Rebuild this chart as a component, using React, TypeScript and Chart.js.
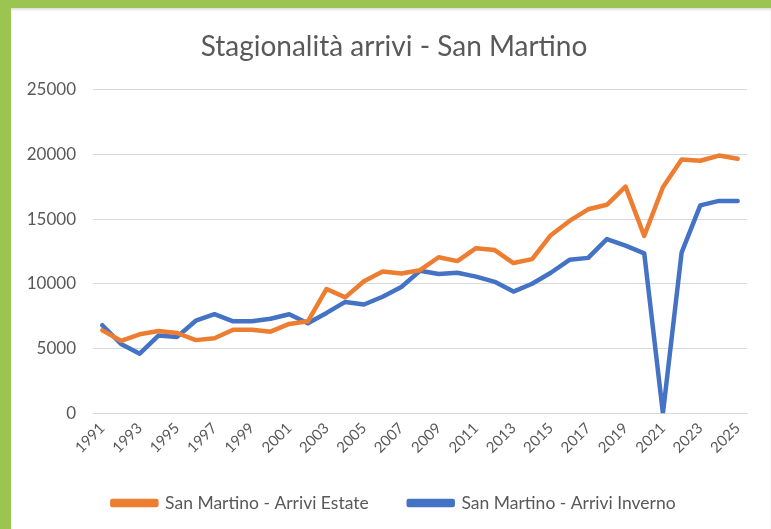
import React, { useEffect, useRef } from "react";
import { Chart, registerables } from "chart.js";

Chart.register(...registerables);

const years = [
  "1991", "1992", "1993", "1994", "1995", "1996", "1997", "1998", "1999", "2000",
  "2001", "2002", "2003", "2004", "2005", "2006", "2007", "2008", "2009", "2010",
  "2011", "2012", "2013", "2014", "2015", "2016", "2017", "2018", "2019", "2020",
  "2021", "2022", "2023", "2024", "2025",
];

const arriviEstate = [
  6400, 5600, 6100, 6350, 6200, 5650, 5800, 6450, 6450, 6300,
  6900, 7100, 9600, 8950, 10200, 10950, 10800, 11050, 12050, 11750,
  12750, 12600, 11600, 11900, 13750, 14850, 15750, 16100, 17500, 13700,
  17450, 19600, 19500, 19900, 19650,
];

const arriviInverno = [
  6800, 5350, 4600, 6000, 5900, 7150, 7650, 7100, 7100, 7300,
  7650, 6950, 7750, 8600, 8400, 9000, 9750, 11000, 10750, 10850,
  10550, 10150, 9400, 10000, 10850, 11850, 12000, 13450, 12950, 12350,
  0, 12400, 16050, 16400, 16400,
];

const seriesNames = ["San Martino - Arrivi Estate", "San Martino - Arrivi Inverno"];
const titleText = "Stagionalità arrivi - San Martino";
const yMin = 0;
const yMax = 25000;
const yStep = 5000;

const ORANGE = "#ED7D31";
const BLUE = "#4472C4";
const TEXT = "#595959";
const GRID = "#d9d9d9";
const FONT = "Lato";

// Shift the title and legend boxes so they are centred like the original
const shiftBoxes = {
  id: "shiftBoxes",
  afterLayout(chart: any) {
    if (chart.titleBlock) chart.titleBlock.left += 30;
    if (chart.legend) chart.legend.left += 30;
  },
};

export default function App() {
  const ref = useRef<HTMLCanvasElement | null>(null);

  useEffect(() => {
    if (!ref.current) return;
    const chart = new Chart(ref.current, {
      type: "line",
      data: {
        labels: years,
        datasets: [
          {
            label: seriesNames[0],
            data: arriviEstate,
            borderColor: ORANGE,
            backgroundColor: ORANGE,
            borderWidth: 4.5,
            pointRadius: 0,
            tension: 0,
            borderJoinStyle: "round",
            borderCapStyle: "round",
          },
          {
            label: seriesNames[1],
            data: arriviInverno,
            borderColor: BLUE,
            backgroundColor: BLUE,
            borderWidth: 4.5,
            pointRadius: 0,
            tension: 0,
            borderJoinStyle: "round",
            borderCapStyle: "round",
          },
        ],
      },
      plugins: [shiftBoxes],
      options: {
        responsive: false,
        animation: false,
        layout: { padding: { top: 10, left: 0, right: 24, bottom: 7.25 } },
        plugins: {
          title: {
            display: true,
            text: titleText,
            color: TEXT,
            font: { family: FONT, size: 28, weight: "normal" },
            padding: { top: 12.4, bottom: 25.5 },
          },
          legend: {
            position: "bottom",
            labels: {
              color: TEXT,
              font: { family: FONT, size: 17.5 },
              boxWidth: 44,
              boxHeight: 4,
              padding: 40,
            },
          },
          tooltip: { enabled: false },
        },
        scales: {
          x: {
            offset: true,
            grid: { display: false, drawTicks: false },
            border: { display: true, color: GRID, width: 1 },
            ticks: {
              autoSkip: false,
              maxRotation: 45,
              minRotation: 45,
              padding: 6,
              color: TEXT,
              font: { family: FONT, size: 15 },
              callback: (_v: any, i: number) => (i % 2 === 0 ? years[i] : ""),
            },
            afterFit: (s: any) => {
              s.height = 40.95;
            },
          },
          y: {
            min: yMin,
            max: yMax,
            grid: { color: GRID, lineWidth: 1, drawTicks: false },
            border: { display: false },
            ticks: {
              stepSize: yStep,
              padding: 17,
              color: TEXT,
              font: { family: FONT, size: 17 },
              callback: (v: any) => String(v),
            },
            afterFit: (s: any) => {
              s.width = 82;
            },
          },
        },
      },
    });
    return () => chart.destroy();
  }, []);

  return (
    <div
      style={{
        position: "fixed",
        left: 0,
        top: 0,
        width: 771,
        height: 529,
        background: "#9bc451",
      }}
    >
      <div
        style={{
          position: "absolute",
          left: 11,
          top: 8,
          width: 760,
          height: 521,
          background: "#ffffff",
          boxShadow: "inset 0 2px 2px rgba(0,0,0,0.12)",
        }}
      >
        <canvas ref={ref} width={760} height={521} style={{ display: "block" }} />
      </div>
    </div>
  );
}
